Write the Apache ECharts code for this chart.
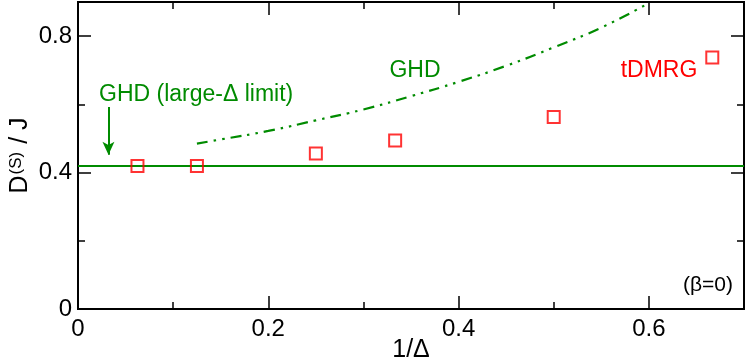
<!DOCTYPE html>
<html>
<head>
<meta charset="utf-8">
<script src="https://cdn.jsdelivr.net/npm/echarts@6/dist/echarts.min.js"></script>
<style>
html, body { margin: 0; padding: 0; background: #fff; }
#chart { width: 747px; height: 362px; }
</style>
</head>
<body>
<div id="chart"></div>
<script>
// GHD curve (dash-dot-dot)
var ghdX = [0.125, 0.15, 0.2, 0.25, 0.3, 0.35, 0.4, 0.45, 0.5, 0.55, 0.6];
var ghdY = [0.485, 0.497, 0.522, 0.553, 0.585, 0.624, 0.666, 0.713, 0.767, 0.825, 0.897];
// GHD large-Delta limit (horizontal)
var limitX = [0, 0.7];
var limitY = [0.419, 0.419];
// tDMRG points
var dmrgX = [1 / 16, 1 / 8, 1 / 4, 1 / 3, 1 / 2, 2 / 3];
var dmrgY = [0.419, 0.419, 0.456, 0.494, 0.563, 0.737];

var GREEN = '#008b00';
var RED = '#ff0000';
var FONT = 'Liberation Sans, Arial, sans-serif';

function pairs(xs, ys) {
    var out = [];
    for (var i = 0; i < xs.length; i++) out.push([xs[i], ys[i]]);
    return out;
}

// one axis: major (labels, long ticks) or minor (short ticks only)
function axis(kind, grid, pos, max, interval, tickLen, withLabels) {
    return {
        type: 'value',
        gridIndex: grid,
        position: pos,
        min: 0,
        max: max,
        interval: interval,
        nameMoveOverlap: false,
        splitLine: { show: false },
        axisLine: { show: true, onZero: false, lineStyle: { color: '#000', width: 2 } },
        axisTick: { show: true, inside: true, length: tickLen, lineStyle: { color: '#000', width: 1.5 } },
        axisLabel: {
            show: withLabels,
            showMaxLabel: false,
            color: '#000',
            fontFamily: FONT,
            fontSize: 24,
            margin: kind === 'x' ? 8 : 6
        }
    };
}

var xAxes = [
    axis('x', 0, 'bottom', 0.7, 0.2, 13, true),
    axis('x', 0, 'top', 0.7, 0.2, 13, false),
    axis('x', 1, 'bottom', 0.7, 0.1, 7, false),
    axis('x', 1, 'top', 0.7, 0.1, 7, false)
];
xAxes[0].name = '1/\u0394';
xAxes[0].nameLocation = 'middle';
xAxes[0].nameGap = 29;
xAxes[0].nameTextStyle = { color: '#000', fontFamily: FONT, fontSize: 25 };

var yAxes = [
    axis('y', 0, 'left', 0.9, 0.4, 13, true),
    axis('y', 0, 'right', 0.9, 0.4, 13, false),
    axis('y', 1, 'left', 0.9, 0.2, 7, false),
    axis('y', 1, 'right', 0.9, 0.2, 7, false)
];
yAxes[0].name = '{a|D}{b|(S)}{a| / J}';
yAxes[0].nameLocation = 'middle';
yAxes[0].nameRotate = 90;
yAxes[0].nameGap = 45;
yAxes[0].nameTextStyle = {
    color: '#000',
    fontFamily: FONT,
    rich: {
        a: { fontFamily: FONT, fontSize: 25, color: '#000' },
        b: { fontFamily: FONT, fontSize: 17, color: '#000', verticalAlign: 'top', padding: [0, 1, 0, 1] }
    }
};

var gridBox = { left: 78, right: 3, top: 2, bottom: 53, containLabel: false, outerBoundsMode: 'none' };

var option = {
    animation: false,
    backgroundColor: '#fff',
    grid: [Object.assign({}, gridBox), Object.assign({}, gridBox)],
    xAxis: xAxes,
    yAxis: yAxes,
    series: [
        {
            type: 'line',
            name: 'GHD',
            xAxisIndex: 0, yAxisIndex: 0,
            data: pairs(ghdX, ghdY),
            smooth: true,
            symbol: 'none',
            lineStyle: { color: GREEN, width: 2.2, type: [11, 6, 2.5, 6, 2.5, 6] }
        },
        {
            type: 'line',
            name: 'GHD (large-\u0394 limit)',
            xAxisIndex: 0, yAxisIndex: 0,
            data: pairs(limitX, limitY),
            symbol: 'none',
            lineStyle: { color: GREEN, width: 2 },
            markLine: {
                silent: true,
                symbol: ['none', 'arrow'],
                symbolSize: [9, 13],
                label: { show: false },
                lineStyle: { color: GREEN, width: 2, type: 'solid' },
                data: [[{ coord: [0.032, 0.592] }, { coord: [0.032, 0.452] }]]
            }
        },
        {
            type: 'scatter',
            name: 'tDMRG',
            xAxisIndex: 0, yAxisIndex: 0,
            data: pairs(dmrgX, dmrgY),
            symbol: 'rect',
            symbolSize: 12,
            itemStyle: { color: 'rgba(0,0,0,0)', borderColor: RED, borderWidth: 2 },
            z: 5
        }
    ],
    graphic: [
        { type: 'text', x: 99, y: 95, style: { text: 'GHD (large-\u0394 limit)', fill: GREEN, font: '23px ' + FONT, align: 'left', verticalAlign: 'middle' } },
        { type: 'text', x: 415, y: 71, style: { text: 'GHD', fill: GREEN, font: '23px ' + FONT, align: 'center', verticalAlign: 'middle' } },
        { type: 'text', x: 659, y: 71, style: { text: 'tDMRG', fill: RED, font: '23px ' + FONT, align: 'center', verticalAlign: 'middle' } },
        { type: 'text', x: 708, y: 285, style: { text: '(\u03b2=0)', fill: '#000', font: '21px ' + FONT, align: 'center', verticalAlign: 'middle' } }
    ]
};

var chart = echarts.init(document.getElementById('chart'), null, { renderer: 'canvas' });
chart.setOption(option);
</script>
</body>
</html>
